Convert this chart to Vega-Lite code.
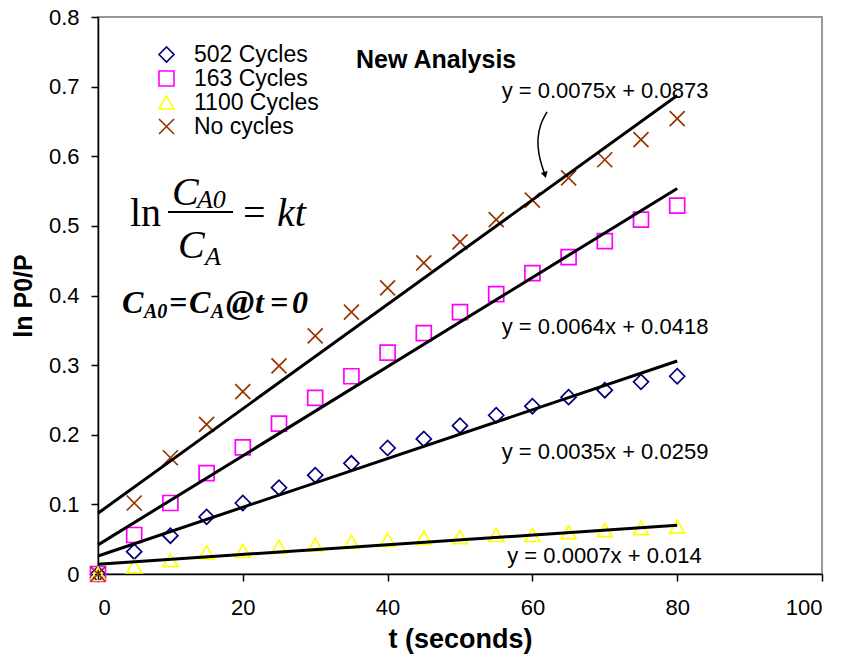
{
  "$schema": "https://vega.github.io/schema/vega-lite/v6.json",
  "width": 724,
  "height": 557,
  "autosize": {"type": "none"},
  "padding": {"left": 98, "top": 17, "right": 22, "bottom": 82},
  "config": {
    "view": {"stroke": "#9a9a9a", "strokeWidth": 2},
    "font": "Liberation Sans",
    "axis": {
      "domainColor": "black", "tickColor": "black", "domainWidth": 1.5, "tickWidth": 1.5,
      "tickSize": 7, "labelFontSize": 22, "labelColor": "black", "titleFontSize": 25,
      "titleFontWeight": "bold", "titleColor": "black", "grid": false, "labelFont": "Liberation Sans", "titleFont": "Liberation Sans"
    }
  },
  "datasets": {
    "points": [
      {"s": "502 Cycles", "x": 0, "y": 0}, {"s": "502 Cycles", "x": 5, "y": 0.032}, {"s": "502 Cycles", "x": 10, "y": 0.055}, {"s": "502 Cycles", "x": 15, "y": 0.082}, {"s": "502 Cycles", "x": 20, "y": 0.102}, {"s": "502 Cycles", "x": 25, "y": 0.124}, {"s": "502 Cycles", "x": 30, "y": 0.142}, {"s": "502 Cycles", "x": 35, "y": 0.159}, {"s": "502 Cycles", "x": 40, "y": 0.181}, {"s": "502 Cycles", "x": 45, "y": 0.194}, {"s": "502 Cycles", "x": 50, "y": 0.213}, {"s": "502 Cycles", "x": 55, "y": 0.228}, {"s": "502 Cycles", "x": 60, "y": 0.241}, {"s": "502 Cycles", "x": 65, "y": 0.254}, {"s": "502 Cycles", "x": 70, "y": 0.264}, {"s": "502 Cycles", "x": 75, "y": 0.276}, {"s": "502 Cycles", "x": 80, "y": 0.284},
      {"s": "163 Cycles", "x": 0, "y": 0}, {"s": "163 Cycles", "x": 5, "y": 0.056}, {"s": "163 Cycles", "x": 10, "y": 0.102}, {"s": "163 Cycles", "x": 15, "y": 0.145}, {"s": "163 Cycles", "x": 20, "y": 0.182}, {"s": "163 Cycles", "x": 25, "y": 0.216}, {"s": "163 Cycles", "x": 30, "y": 0.253}, {"s": "163 Cycles", "x": 35, "y": 0.284}, {"s": "163 Cycles", "x": 40, "y": 0.318}, {"s": "163 Cycles", "x": 45, "y": 0.346}, {"s": "163 Cycles", "x": 50, "y": 0.376}, {"s": "163 Cycles", "x": 55, "y": 0.402}, {"s": "163 Cycles", "x": 60, "y": 0.432}, {"s": "163 Cycles", "x": 65, "y": 0.455}, {"s": "163 Cycles", "x": 70, "y": 0.478}, {"s": "163 Cycles", "x": 75, "y": 0.509}, {"s": "163 Cycles", "x": 80, "y": 0.529},
      {"s": "1100 Cycles", "x": 0, "y": 0}, {"s": "1100 Cycles", "x": 5, "y": 0.011}, {"s": "1100 Cycles", "x": 10, "y": 0.02}, {"s": "1100 Cycles", "x": 15, "y": 0.031}, {"s": "1100 Cycles", "x": 20, "y": 0.033}, {"s": "1100 Cycles", "x": 25, "y": 0.039}, {"s": "1100 Cycles", "x": 30, "y": 0.042}, {"s": "1100 Cycles", "x": 35, "y": 0.046}, {"s": "1100 Cycles", "x": 40, "y": 0.049}, {"s": "1100 Cycles", "x": 45, "y": 0.052}, {"s": "1100 Cycles", "x": 50, "y": 0.053}, {"s": "1100 Cycles", "x": 55, "y": 0.056}, {"s": "1100 Cycles", "x": 60, "y": 0.056}, {"s": "1100 Cycles", "x": 65, "y": 0.06}, {"s": "1100 Cycles", "x": 70, "y": 0.063}, {"s": "1100 Cycles", "x": 75, "y": 0.066}, {"s": "1100 Cycles", "x": 80, "y": 0.068},
      {"s": "No cycles", "x": 0, "y": 0}, {"s": "No cycles", "x": 5, "y": 0.102}, {"s": "No cycles", "x": 10, "y": 0.167}, {"s": "No cycles", "x": 15, "y": 0.215}, {"s": "No cycles", "x": 20, "y": 0.262}, {"s": "No cycles", "x": 25, "y": 0.299}, {"s": "No cycles", "x": 30, "y": 0.342}, {"s": "No cycles", "x": 35, "y": 0.376}, {"s": "No cycles", "x": 40, "y": 0.411}, {"s": "No cycles", "x": 45, "y": 0.447}, {"s": "No cycles", "x": 50, "y": 0.477}, {"s": "No cycles", "x": 55, "y": 0.509}, {"s": "No cycles", "x": 60, "y": 0.537}, {"s": "No cycles", "x": 65, "y": 0.569}, {"s": "No cycles", "x": 70, "y": 0.595}, {"s": "No cycles", "x": 75, "y": 0.624}, {"s": "No cycles", "x": 80, "y": 0.654}
    ],
    "fits": [
      {"s": "No cycles", "x": 0, "y": 0.0873}, {"s": "No cycles", "x": 80, "y": 0.6873},
      {"s": "163 Cycles", "x": 0, "y": 0.0418}, {"s": "163 Cycles", "x": 80, "y": 0.5538},
      {"s": "502 Cycles", "x": 0, "y": 0.0259}, {"s": "502 Cycles", "x": 80, "y": 0.3059},
      {"s": "1100 Cycles", "x": 0, "y": 0.014}, {"s": "1100 Cycles", "x": 80, "y": 0.070}
    ],
    "eqs": [
      {"x": 70.03, "y": 0.6937, "t": "y = 0.0075x + 0.0873"},
      {"x": 70.03, "y": 0.3548, "t": "y = 0.0064x + 0.0418"},
      {"x": 70.03, "y": 0.1752, "t": "y = 0.0035x + 0.0259"},
      {"x": 69.96, "y": 0.0259, "t": "y = 0.0007x + 0.014"}
    ],
    "heading": [{"x": 46.7, "y": 0.7382, "t": "New Analysis"}],
    "tmReg": [{"x": 4.42, "y": 0.5, "t": "ln"}, {"x": 20.03, "y": 0.5, "t": "="}],
    "tmIt": [{"x": 10.22, "y": 0.53, "t": "C"}, {"x": 11.05, "y": 0.4539, "t": "C"}, {"x": 24.72, "y": 0.5, "t": "kt"}],
    "tmSub": [{"x": 13.67, "y": 0.5257, "t": "A0"}, {"x": 14.78, "y": 0.4438, "t": "A"}],
    "frac": [{"x": 9.67, "x2": 18.65, "y": 0.52}],
    "tmb": [{"x": 3.31, "y": 0.3749, "t": "C"}, {"x": 9.81, "y": 0.3749, "t": "="}, {"x": 12.57, "y": 0.3749, "t": "C"}, {"x": 21.69, "y": 0.3749, "t": "t"}, {"x": 23.76, "y": 0.3749, "t": "="}, {"x": 26.8, "y": 0.3749, "t": "0"}],
    "tmbAt": [{"x": 17.68, "y": 0.3749, "t": "@"}],
    "tmbSub": [{"x": 6.35, "y": 0.3677, "t": "A0"}, {"x": 15.6, "y": 0.3677, "t": "A"}],
    "arrow": [
      {"o": 1, "x": 62.02, "y": 0.6636}, {"o": 2, "x": 61.19, "y": 0.6463}, {"o": 3, "x": 60.77, "y": 0.6248},
      {"o": 4, "x": 60.91, "y": 0.6032}, {"o": 5, "x": 61.33, "y": 0.586}, {"o": 6, "x": 61.74, "y": 0.5731}
    ],
    "arrowHead": [{"x": 61.74, "y": 0.5731}]
  },
  "layer": [
    {
      "data": {"name": "points"},
      "mark": {"type": "point", "filled": false, "size": 225, "strokeWidth": 1.7, "opacity": 1},
      "encoding": {
        "x": {"field": "x", "type": "quantitative", "scale": {"domain": [0, 100], "nice": false}, "axis": {"values": [0, 20, 40, 60, 80, 100], "title": "t (seconds)", "titleFontSize": 27, "labelPadding": 16, "titlePadding": 8}},
        "y": {"field": "y", "type": "quantitative", "scale": {"domain": [0, 0.8], "nice": false}, "axis": {"values": [0, 0.1, 0.2, 0.3, 0.4, 0.5, 0.6, 0.7, 0.8], "title": "ln P0/P", "labelPadding": 12, "titlePadding": 12, "labelExpr": "datum.value == 0 ? '0' : format(datum.value, '.1f')"}},
        "color": {"field": "s", "type": "nominal", "scale": {"domain": ["502 Cycles", "163 Cycles", "1100 Cycles", "No cycles"], "range": ["#000080", "#FF00FF", "#FFFF00", "#993300"]},
          "legend": {"orient": "none", "legendX": 57, "legendY": 26, "title": null, "labelFontSize": 23, "labelColor": "black", "symbolSize": 225, "symbolStrokeWidth": 1.6, "rowPadding": 0, "labelOffset": 16, "padding": 0, "labelLimit": 300}},
        "shape": {"field": "s", "type": "nominal", "scale": {"domain": ["502 Cycles", "163 Cycles", "1100 Cycles", "No cycles"], "range": ["diamond", "square", "triangle-up", "M-1,-1L1,1M-1,1L1,-1"]}, "legend": {"orient": "none", "legendX": 57, "legendY": 26, "title": null, "labelFontSize": 23, "labelColor": "black", "symbolSize": 225, "symbolStrokeWidth": 1.6, "rowPadding": 0, "labelOffset": 16, "padding": 0, "labelLimit": 300}}
      }
    },
    {
      "data": {"name": "fits"},
      "mark": {"type": "line", "color": "black", "strokeWidth": 3},
      "encoding": {
        "x": {"field": "x", "type": "quantitative"},
        "y": {"field": "y", "type": "quantitative"},
        "detail": {"field": "s"}
      }
    },
    {
      "data": {"name": "eqs"},
      "mark": {"type": "text", "font": "Liberation Sans", "fontSize": 22, "align": "center", "baseline": "middle", "color": "black"},
      "encoding": {"x": {"field": "x", "type": "quantitative"}, "y": {"field": "y", "type": "quantitative"}, "text": {"field": "t"}}
    },
    {
      "data": {"name": "heading"},
      "mark": {"type": "text", "font": "Liberation Sans", "fontSize": 25, "fontWeight": "bold", "align": "center", "baseline": "middle", "color": "black"},
      "encoding": {"x": {"field": "x", "type": "quantitative"}, "y": {"field": "y", "type": "quantitative"}, "text": {"field": "t"}}
    },
    {
      "data": {"name": "tmReg"},
      "mark": {"type": "text", "font": "Liberation Serif", "fontSize": 40, "align": "left", "baseline": "alphabetic", "color": "black"},
      "encoding": {"x": {"field": "x", "type": "quantitative"}, "y": {"field": "y", "type": "quantitative"}, "text": {"field": "t"}}
    },
    {
      "data": {"name": "tmIt"},
      "mark": {"type": "text", "font": "Liberation Serif", "fontSize": 40, "fontStyle": "italic", "align": "left", "baseline": "alphabetic", "color": "black"},
      "encoding": {"x": {"field": "x", "type": "quantitative"}, "y": {"field": "y", "type": "quantitative"}, "text": {"field": "t"}}
    },
    {
      "data": {"name": "tmSub"},
      "mark": {"type": "text", "font": "Liberation Serif", "fontSize": 26, "fontStyle": "italic", "align": "left", "baseline": "alphabetic", "color": "black"},
      "encoding": {"x": {"field": "x", "type": "quantitative"}, "y": {"field": "y", "type": "quantitative"}, "text": {"field": "t"}}
    },
    {
      "data": {"name": "frac"},
      "mark": {"type": "rule", "color": "black", "strokeWidth": 2},
      "encoding": {"x": {"field": "x", "type": "quantitative"}, "x2": {"field": "x2"}, "y": {"field": "y", "type": "quantitative"}}
    },
    {
      "data": {"name": "tmb"},
      "mark": {"type": "text", "font": "Liberation Serif", "fontSize": 32, "fontStyle": "italic", "fontWeight": "bold", "align": "left", "baseline": "alphabetic", "color": "black"},
      "encoding": {"x": {"field": "x", "type": "quantitative"}, "y": {"field": "y", "type": "quantitative"}, "text": {"field": "t"}}
    },
    {
      "data": {"name": "tmbAt"},
      "mark": {"type": "text", "font": "Liberation Serif", "fontSize": 34, "fontStyle": "italic", "fontWeight": "bold", "align": "left", "baseline": "alphabetic", "color": "black"},
      "encoding": {"x": {"field": "x", "type": "quantitative"}, "y": {"field": "y", "type": "quantitative"}, "text": {"field": "t"}}
    },
    {
      "data": {"name": "tmbSub"},
      "mark": {"type": "text", "font": "Liberation Serif", "fontSize": 20, "fontStyle": "italic", "fontWeight": "bold", "align": "left", "baseline": "alphabetic", "color": "black"},
      "encoding": {"x": {"field": "x", "type": "quantitative"}, "y": {"field": "y", "type": "quantitative"}, "text": {"field": "t"}}
    },
    {
      "data": {"name": "arrow"},
      "mark": {"type": "line", "color": "black", "strokeWidth": 1.5, "interpolate": "natural"},
      "encoding": {"x": {"field": "x", "type": "quantitative"}, "y": {"field": "y", "type": "quantitative"}, "order": {"field": "o"}}
    },
    {
      "data": {"name": "arrowHead"},
      "mark": {"type": "point", "shape": "triangle-down", "filled": true, "color": "black", "size": 50, "angle": -15, "opacity": 1},
      "encoding": {"x": {"field": "x", "type": "quantitative"}, "y": {"field": "y", "type": "quantitative"}}
    }
  ]
}
